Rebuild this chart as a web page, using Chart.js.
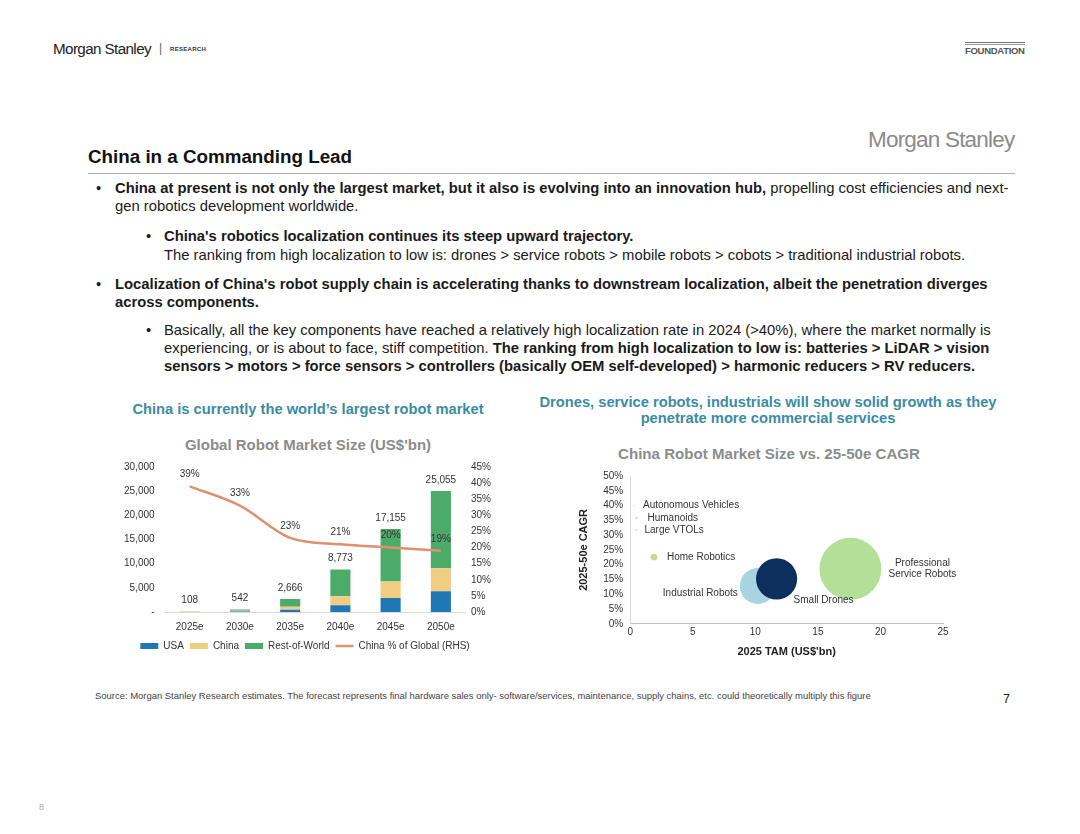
<!DOCTYPE html>
<html><head><meta charset="utf-8">
<script src="https://cdn.jsdelivr.net/npm/chart.js@4.4.1/dist/chart.umd.min.js"></script>
<style>
body{margin:0;width:1080px;height:834px;background:#fff;font-family:"Liberation Sans",Arial,sans-serif;position:relative;overflow:hidden;color:#111}
.abs{position:absolute;white-space:nowrap}
.ln{position:absolute;white-space:nowrap;font-size:14.8px;line-height:18px;color:#1a1a1a}
.sub{position:absolute;white-space:nowrap;font-weight:bold;color:#3b8ca2;font-size:14.7px;text-align:center;line-height:16px}
</style></head><body>

<div class="abs" style="left:53px;top:40px;font-size:15.2px;letter-spacing:-0.6px;color:#222">Morgan Stanley</div>
<div class="abs" style="left:159px;top:41px;font-size:12px;color:#666">|</div>
<div class="abs" style="left:170px;top:46px;font-size:6px;font-weight:bold;color:#333;letter-spacing:0.3px">RESEARCH</div>
<div class="abs" style="left:965px;top:42px;width:60px;border-top:1px solid #777"></div>
<div class="abs" style="left:965px;top:44px;width:60px;border-top:1px solid #999"></div>
<div class="abs" style="left:965px;top:45px;font-size:9.5px;font-weight:bold;color:#555;letter-spacing:-0.3px">FOUNDATION</div>

<div class="abs" style="left:868px;top:127px;font-size:22.5px;color:#8a8a8a;letter-spacing:-0.8px">Morgan Stanley</div>
<div class="abs" style="left:88px;top:146px;font-size:18.8px;font-weight:bold;color:#111">China in a Commanding Lead</div>
<div class="abs" style="left:88px;top:173px;width:927px;border-top:1.5px solid #b0b0b0"></div>

<div class="ln" style="left:96px;top:179px">•</div>
<div class="ln" style="left:115px;top:179px"><b>China at present is not only the largest market, but it also is evolving into an innovation hub,</b> propelling cost efficiencies and next-</div>
<div class="ln" style="left:115px;top:197px">gen robotics development worldwide.</div>
<div class="ln" style="left:146px;top:227px">•</div>
<div class="ln" style="left:164px;top:227px"><b>China's robotics localization continues its steep upward trajectory.</b></div>
<div class="ln" style="left:164px;top:246px">The ranking from high localization to low is: drones &gt; service robots &gt; mobile robots &gt; cobots &gt; traditional industrial robots.</div>
<div class="ln" style="left:96px;top:275px">•</div>
<div class="ln" style="left:115px;top:275px"><b>Localization of China's robot supply chain is accelerating thanks to downstream localization, albeit the penetration diverges</b></div>
<div class="ln" style="left:115px;top:293px"><b>across components.</b></div>
<div class="ln" style="left:146px;top:321px">•</div>
<div class="ln" style="left:164px;top:321px">Basically, all the key components have reached a relatively high localization rate in 2024 (&gt;40%), where the market normally is</div>
<div class="ln" style="left:164px;top:339px">experiencing, or is about to face, stiff competition. <b>The ranking from high localization to low is: batteries &gt; LiDAR &gt; vision</b></div>
<div class="ln" style="left:164px;top:357px"><b>sensors &gt; motors &gt; force sensors &gt; controllers (basically OEM self-developed) &gt; harmonic reducers &gt; RV reducers.</b></div>

<div class="sub" style="left:108px;width:400px;top:401px">China is currently the world’s largest robot market</div>
<div class="sub" style="left:518px;width:500px;top:394px">Drones, service robots, industrials will show solid growth as they<br>penetrate more commercial services</div>

<div class="abs" style="left:108px;width:400px;top:436px;text-align:center;font-size:15px;font-weight:bold;color:#8c8c8c">Global Robot Market Size (US$'bn)</div>
<div class="abs" style="left:519px;width:500px;top:445px;text-align:center;font-size:15.1px;font-weight:bold;color:#8c8c8c">China Robot Market Size vs. 25-50e CAGR</div>

<div class="abs" style="left:100px;top:451px;width:396px;height:210px"><canvas id="left"></canvas></div>
<div class="abs" style="left:571px;top:463px;width:430px;height:200px"><canvas id="right"></canvas></div>

<div class="abs" style="left:95px;top:690px;font-size:9.45px;color:#444">Source: Morgan Stanley Research estimates. The forecast represents final hardware sales only- software/services, maintenance, supply chains, etc. could theoretically multiply this figure</div>
<div class="abs" style="left:1003px;top:692px;font-size:12.5px;color:#222">7</div>
<div class="abs" style="left:39px;top:802px;font-size:9px;color:#aaa">8</div>

<script>
// ---- Left chart data ----
const years = ['2025e', '2030e', '2035e', '2040e', '2045e', '2050e'];
const usa = [15, 80, 450, 1400, 2900, 4300];
const china = [42, 179, 613, 1842, 3431, 4760];
const restOfWorld = [51, 283, 1603, 5531, 10824, 15995];
const totals = [108, 542, 2666, 8773, 17155, 25055];
const chinaShare = [39, 33, 23, 21, 20, 19];

// ---- Right chart data ----
const segments = ['Autonomous Vehicles', 'Humanoids', 'Large VTOLs', 'Home Robotics', 'Industrial Robots', 'Small Drones', 'Professional Service Robots'];
const tam2025 = [0.3, 0.5, 0.5, 1.9, 10.2, 11.7, 17.6];
const cagr2550 = [40, 35.8, 31.8, 22.6, 12.8, 15.2, 18.6];

const FONT = '"Liberation Sans", Arial, sans-serif';
Chart.defaults.font.family = FONT;
Chart.defaults.color = '#333';
Chart.defaults.animation = false;

const leftLabels = {
  id: 'leftLabels',
  afterDatasetsDraw(chart) {
    const {ctx, scales} = chart;
    ctx.save();
    ctx.font = '10px ' + FONT;
    ctx.fillStyle = '#333';
    ctx.textAlign = 'center';
    ctx.textBaseline = 'middle';
    totals.forEach((t, i) => {
      ctx.fillText(t.toLocaleString('en-US'), scales.x.getPixelForValue(i), scales.y.getPixelForValue(t) - 11);
    });
    chinaShare.forEach((p, i) => {
      ctx.fillText(p + '%', scales.x.getPixelForValue(i), scales.y1.getPixelForValue(p) - 12);
    });
    ctx.restore();
  }
};

new Chart(document.getElementById('left'), {
  data: {
    labels: years,
    datasets: [
      {type: 'line', label: 'China % of Global (RHS)', data: chinaShare, yAxisID: 'y1', borderColor: '#e08f70', backgroundColor: '#e08f70', borderWidth: 2.5, pointRadius: 0, cubicInterpolationMode: 'monotone', order: 0},
      {type: 'bar', label: 'USA', data: usa, backgroundColor: '#1f78b4', stack: 's', barPercentage: 0.5, order: 1},
      {type: 'bar', label: 'China', data: china, backgroundColor: '#f1cd84', stack: 's', barPercentage: 0.5, order: 1},
      {type: 'bar', label: 'Rest-of-World', data: restOfWorld, backgroundColor: '#4cab68', stack: 's', barPercentage: 0.5, order: 1}
    ]
  },
  options: {
    responsive: true, maintainAspectRatio: false, events: [],
    layout: {padding: {top: 7, left: 14, right: 0, bottom: 0}},
    plugins: {
      tooltip: {enabled: false},
      legend: {
        position: 'bottom',
        labels: {
          usePointStyle: true, pointStyleWidth: 18, boxHeight: 6, padding: 6,
          font: {size: 10}, color: '#333',
          generateLabels(chart) {
            const items = Chart.defaults.plugins.legend.labels.generateLabels(chart);
            const order = ['USA', 'China', 'Rest-of-World', 'China % of Global (RHS)'];
            items.forEach(it => {
              const ds = chart.data.datasets[it.datasetIndex];
              it.pointStyle = ds.type === 'line' ? 'line' : 'rect';
              if (ds.type === 'line') { it.strokeStyle = ds.borderColor; it.lineWidth = 2.5; }
              else { it.lineWidth = 0; }
            });
            return items.sort((a, b) => order.indexOf(a.text) - order.indexOf(b.text));
          }
        }
      }
    },
    scales: {
      x: {stacked: true, grid: {display: false, drawTicks: false}, border: {display: true, color: '#d9d9d9'},
          ticks: {font: {size: 10}, color: '#333', padding: 9},
          afterFit(scale) { scale.height -= 7; }},
      y: {stacked: true, min: 0, max: 30000, grid: {display: false, drawTicks: false}, border: {display: false},
          ticks: {stepSize: 5000, autoSkip: false, font: {size: 10}, color: '#333', padding: 10,
                  callback: v => v === 0 ? '-' : v.toLocaleString('en-US')}},
      y1: {position: 'right', min: 0, max: 45, grid: {display: false, drawTicks: false}, border: {display: false},
           ticks: {stepSize: 5, autoSkip: false, font: {size: 10}, color: '#333', padding: 5, callback: v => v + '%'}}
    }
  },
  plugins: [leftLabels]
});

// ---- Right chart ----
const bubbleColors = ['#b9cf8e', '#9fc0cc', '#b7d7e2', '#c9d98f', '#a8d3e1', '#0c2f5d', '#b3df99'];
const labelPlacement = [
  {dx: 9, dy: 0, align: 'left'},
  {dx: 11, dy: 0, align: 'left'},
  {dx: 8, dy: 0, align: 'left'},
  {dx: 13, dy: 0, align: 'left'},
  {dx: -20, dy: 7, align: 'right'},
  {dx: 47, dy: 21, align: 'center'},
  {dx: 72, dy: 0, align: 'center', lines: ['Professional', 'Service Robots']}
];

const bubbleLabels = {
  id: 'bubbleLabels',
  afterDatasetsDraw(chart) {
    const {ctx, scales} = chart;
    ctx.save();
    ctx.font = '10px ' + FONT;
    ctx.fillStyle = '#333';
    ctx.textBaseline = 'middle';
    segments.forEach((s, i) => {
      const p = labelPlacement[i];
      const px = scales.x.getPixelForValue(tam2025[i]) + p.dx;
      const py = scales.y.getPixelForValue(cagr2550[i]) + p.dy;
      ctx.textAlign = p.align;
      const lines = p.lines || [s];
      lines.forEach((l, k) => ctx.fillText(l, px, py + (k - (lines.length - 1) / 2) * 11));
    });
    ctx.restore();
  }
};

new Chart(document.getElementById('right'), {
  type: 'bubble',
  data: {
    datasets: [{
      label: 'Segments',
      data: tam2025.map((t, i) => ({x: t, y: cagr2550[i], r: t * 1.76})),
      backgroundColor: bubbleColors,
      borderWidth: 0
    }]
  },
  options: {
    responsive: true, maintainAspectRatio: false, events: [],
    layout: {autoPadding: false, padding: {top: 7, left: 6, right: 58, bottom: 4}},
    plugins: {legend: {display: false}, tooltip: {enabled: false}},
    scales: {
      x: {min: 0, max: 25, grid: {display: false, drawTicks: false}, border: {display: true, color: '#bfbfbf'},
          ticks: {stepSize: 5, autoSkip: false, font: {size: 10}, color: '#333', padding: 2},
          title: {display: true, text: "2025 TAM (US$'bn)", font: {size: 11, weight: 'bold'}, color: '#222', padding: {top: 6, bottom: 0}}},
      y: {min: 0, max: 50, grid: {display: false, drawTicks: false}, border: {display: true, color: '#d9d9d9'},
          ticks: {stepSize: 5, autoSkip: false, font: {size: 10}, color: '#333', padding: 7, callback: v => v + '%'},
          title: {display: true, text: '2025-50e CAGR', font: {size: 11, weight: 'bold'}, color: '#222', padding: {top: 0, bottom: 6}}}
    }
  },
  plugins: [bubbleLabels]
});
</script>
</body></html>
